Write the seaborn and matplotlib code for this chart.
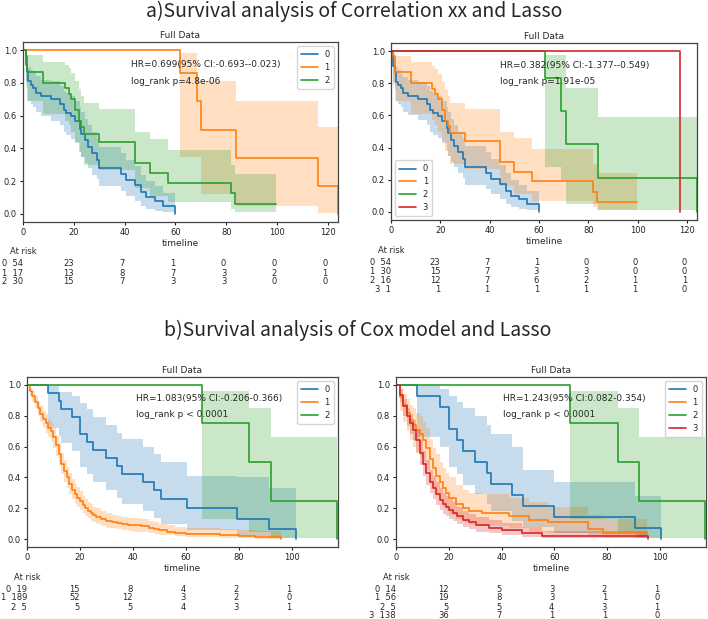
import matplotlib
matplotlib.use("Agg")
import matplotlib.pyplot as plt
import seaborn as sns

# ---- survival curves (time, survival, lower CI, upper CI) ----
# top panels, group of 54 (blue in both)
a_t = [0, 1, 1.5, 2, 3, 4, 5, 7, 11, 14.5, 16, 17, 19, 20.5, 22.5, 23, 24.5, 25.5, 27, 29,
       30, 38.5, 40.5, 44, 46.5, 48.5, 52, 55, 60]
a_s = [1.0, 0.91, 0.87, 0.81, 0.79, 0.77, 0.74, 0.72, 0.70, 0.67, 0.635, 0.615, 0.595, 0.565,
       0.52, 0.49, 0.45, 0.41, 0.37, 0.33, 0.28, 0.245, 0.205, 0.174, 0.133, 0.10, 0.08, 0.05, 0.0]
a_hi = [1, 0.97, 0.95, 0.90, 0.88, 0.86, 0.84, 0.82, 0.81, 0.78, 0.75, 0.74, 0.72, 0.69, 0.65,
        0.62, 0.58, 0.54, 0.50, 0.46, 0.41, 0.37, 0.33, 0.29, 0.24, 0.20, 0.17, 0.13, 0.13]
a_lo = [1, 0.81, 0.76, 0.69, 0.67, 0.65, 0.62, 0.60, 0.57, 0.54, 0.50, 0.48, 0.46, 0.43, 0.38,
        0.35, 0.31, 0.28, 0.24, 0.21, 0.17, 0.14, 0.11, 0.08, 0.05, 0.03, 0.02, 0.01, 0.0]

# top panels, group of 30 (green left, orange right)
b_t = [0, 1, 1.5, 8, 16.5, 18, 19, 20.5, 22, 23, 24, 30, 44, 50, 57, 82, 83.5, 99.5]
b_s = [1, 0.967, 0.867, 0.80, 0.767, 0.733, 0.70, 0.633, 0.567, 0.533, 0.49, 0.44, 0.31,
       0.25, 0.19, 0.125, 0.06, 0.06]
b_hi = [1, 1, 0.97, 0.93, 0.91, 0.89, 0.86, 0.81, 0.76, 0.72, 0.68, 0.64, 0.50, 0.46, 0.39,
        0.30, 0.245, 0.245]
b_lo = [1, 0.79, 0.69, 0.61, 0.57, 0.54, 0.50, 0.44, 0.38, 0.35, 0.30, 0.27, 0.16, 0.11,
        0.07, 0.03, 0.01, 0.01]

# top-left orange
c_t = [0, 62, 68.5, 70, 84, 116, 124]
c_s = [1, 0.86, 0.69, 0.515, 0.34, 0.17, 0.0]
c_hi = [1, 0.98, 0.81, 0.81, 0.69, 0.53, 0.53]
c_lo = [1, 0.35, 0.35, 0.12, 0.045, 0.005, 0.0]

# top-right green
d_t = [0, 62.5, 69, 71, 84, 124]
d_s = [1, 0.83, 0.625, 0.42, 0.21, 0.0]
d_hi = [1, 0.975, 0.975, 0.77, 0.59, 0.59]
d_lo = [1, 0.28, 0.20, 0.05, 0.01, 0.0]

# top-right red
e_t = [0, 117]
e_s = [1, 0.0]

# bottom panels green
f_t = [0, 66, 84, 92, 117]
f_s = [1, 0.75, 0.5, 0.25, 0.0]
f_hi = [1, 0.96, 0.85, 0.66, 0.66]
f_lo = [1, 0.13, 0.05, 0.01, 0.0]

# bottom-left blue
g_t = [0, 8, 12, 13, 17, 20, 22.5, 25, 30, 34, 36, 44, 48, 50.5, 60.5, 79.5, 91.5, 101.5]
g_s = [1, 0.947, 0.895, 0.842, 0.789, 0.684, 0.632, 0.579, 0.526, 0.474, 0.421, 0.368,
       0.316, 0.263, 0.20, 0.13, 0.066, 0.0]
g_hi = [1, 1, 0.95, 0.95, 0.93, 0.88, 0.84, 0.79, 0.74, 0.69, 0.65, 0.60, 0.55, 0.50,
        0.41, 0.40, 0.33, 0.25]
g_lo = [1, 0.72, 0.67, 0.62, 0.57, 0.47, 0.42, 0.37, 0.32, 0.27, 0.23, 0.18, 0.14, 0.10,
        0.06, 0.02, 0.005, 0.0]

# bottom-left orange
h_t = [0, 1, 2, 3, 4, 5, 6, 7, 8, 9, 10, 11, 12, 13, 14, 15, 16, 17, 18, 19, 20, 21, 22, 23,
       24, 25, 26, 28, 30, 32, 34, 36, 38, 40, 43, 46, 48, 50, 53, 56, 60, 66, 73, 80, 86, 96]
h_s = [1, 0.96, 0.93, 0.89, 0.85, 0.81, 0.78, 0.75, 0.72, 0.70, 0.66, 0.61, 0.55, 0.49, 0.44,
       0.40, 0.36, 0.32, 0.29, 0.27, 0.25, 0.22, 0.20, 0.185, 0.17, 0.155, 0.145, 0.13, 0.12,
       0.11, 0.105, 0.10, 0.095, 0.09, 0.085, 0.075, 0.065, 0.06, 0.05, 0.04, 0.037, 0.032,
       0.026, 0.021, 0.017, 0.0]
h_hi = [1, 0.98, 0.96, 0.93, 0.89, 0.86, 0.83, 0.81, 0.78, 0.76, 0.72, 0.67, 0.62, 0.56, 0.51,
        0.47, 0.43, 0.39, 0.36, 0.34, 0.31, 0.28, 0.26, 0.24, 0.23, 0.21, 0.20, 0.18, 0.17,
        0.16, 0.15, 0.145, 0.14, 0.135, 0.13, 0.12, 0.11, 0.10, 0.09, 0.08, 0.075, 0.07,
        0.065, 0.06, 0.055, 0.055]
h_lo = [1, 0.93, 0.89, 0.85, 0.80, 0.76, 0.72, 0.69, 0.66, 0.63, 0.59, 0.54, 0.48, 0.42, 0.37,
        0.33, 0.29, 0.26, 0.23, 0.21, 0.19, 0.17, 0.15, 0.135, 0.12, 0.11, 0.10, 0.085, 0.075,
        0.07, 0.065, 0.06, 0.055, 0.05, 0.045, 0.04, 0.035, 0.03, 0.025, 0.02, 0.015, 0.012,
        0.009, 0.006, 0.004, 0.0]

# bottom-right blue
i_t = [0, 8, 16.75, 20, 23, 25.5, 30, 34.5, 36, 44, 48, 60, 90.5, 100.5]
i_s = [1, 0.929, 0.857, 0.714, 0.643, 0.571, 0.5, 0.429, 0.357, 0.286, 0.214, 0.143, 0.071, 0.0]
i_hi = [1, 1, 0.97, 0.93, 0.89, 0.85, 0.80, 0.74, 0.68, 0.60, 0.45, 0.37, 0.28, 0.28]
i_lo = [1, 0.66, 0.60, 0.47, 0.42, 0.35, 0.29, 0.23, 0.18, 0.12, 0.08, 0.04, 0.005, 0.0]

# bottom-right orange
j_t = [0, 1.5, 2.75, 4, 5.25, 6.5, 7.75, 9, 10.25, 11.5, 12.75, 14, 15.25, 16.5, 17.75, 19,
       20.25, 22.75, 25.25, 27.75, 32.75, 42.75, 50.25, 57.75, 72.75, 78.5, 95]
j_s = [1, 0.92, 0.87, 0.82, 0.77, 0.74, 0.71, 0.68, 0.64, 0.59, 0.52, 0.46, 0.41, 0.37, 0.33,
       0.30, 0.27, 0.23, 0.20, 0.18, 0.17, 0.15, 0.125, 0.11, 0.065, 0.04, 0.04]
j_hi = [1, 0.97, 0.94, 0.91, 0.87, 0.85, 0.82, 0.80, 0.76, 0.72, 0.65, 0.59, 0.55, 0.50, 0.46,
        0.43, 0.40, 0.35, 0.32, 0.30, 0.29, 0.27, 0.24, 0.21, 0.16, 0.13, 0.13]
j_lo = [1, 0.83, 0.76, 0.70, 0.64, 0.60, 0.57, 0.53, 0.50, 0.45, 0.38, 0.33, 0.28, 0.25, 0.21,
        0.19, 0.16, 0.13, 0.11, 0.095, 0.085, 0.07, 0.05, 0.04, 0.02, 0.01, 0.01]

# bottom-right red
k_t = [0, 1.5, 2.75, 4, 5.25, 6.5, 7.75, 9, 10.25, 11.5, 12.75, 14, 15.25, 16.5, 17.75, 19,
       20.25, 21.5, 23, 25.25, 27.5, 30.25, 35.25, 40.25, 47.75, 55.25, 95.5]
k_s = [1, 0.935, 0.86, 0.795, 0.75, 0.71, 0.64, 0.56, 0.49, 0.43, 0.37, 0.33, 0.29, 0.255,
       0.23, 0.21, 0.19, 0.17, 0.15, 0.125, 0.11, 0.093, 0.076, 0.06, 0.04, 0.02, 0.0]
k_hi = [1, 0.97, 0.91, 0.85, 0.81, 0.77, 0.71, 0.64, 0.57, 0.51, 0.45, 0.41, 0.37, 0.33, 0.30,
        0.28, 0.26, 0.24, 0.21, 0.18, 0.165, 0.145, 0.125, 0.105, 0.08, 0.055, 0.055]
k_lo = [1, 0.89, 0.80, 0.73, 0.68, 0.64, 0.56, 0.48, 0.41, 0.35, 0.30, 0.26, 0.22, 0.19, 0.165,
        0.15, 0.13, 0.115, 0.10, 0.08, 0.065, 0.05, 0.038, 0.028, 0.015, 0.005, 0.0]

# ---- at-risk tables ----
top_ticks = [0, 20, 40, 60, 80, 100, 120]
bottom_ticks = [0, 20, 40, 60, 80, 100]
risk_tl = [[54, 23, 7, 1, 0, 0, 0], [17, 13, 8, 7, 3, 2, 1], [30, 15, 7, 3, 3, 0, 0]]
risk_tr = [[54, 23, 7, 1, 0, 0, 0], [30, 15, 7, 3, 3, 0, 0], [16, 12, 7, 6, 2, 1, 1],
           [1, 1, 1, 1, 1, 1, 0]]
risk_bl = [[19, 15, 8, 4, 2, 1], [189, 52, 12, 3, 2, 0], [5, 5, 5, 4, 3, 1]]
risk_br = [[14, 12, 5, 3, 2, 1], [56, 19, 8, 3, 1, 0], [5, 5, 5, 4, 3, 1], [138, 36, 7, 1, 1, 0]]

hr_text = ["HR=0.699(95% CI:-0.693--0.023)", "HR=0.382(95% CI:-1.377--0.549)",
           "HR=1.083(95% CI:-0.206-0.366)", "HR=1.243(95% CI:0.082-0.354)"]
p_text = ["log_rank p=4.8e-06", "log_rank p=1.91e-05", "log_rank p < 0.0001", "log_rank p < 0.0001"]

C0, C1, C2, C3 = "#1f77b4", "#ff7f0e", "#2ca02c", "#d62728"

sns.set_style("ticks", {"axes.edgecolor": "#444444"})
plt.rcParams["font.family"] = ["DejaVu Sans"]
plt.rcParams["xtick.labelsize"] = 6
plt.rcParams["ytick.labelsize"] = 6
plt.rcParams["xtick.major.size"] = 2.5
plt.rcParams["ytick.major.size"] = 2.5
plt.rcParams["axes.linewidth"] = 0.9

fig = plt.figure(figsize=(7.08, 6.19), dpi=100)
W, H = 708.0, 619.0


def make_ax(left, right, top, bottom):
    return fig.add_axes([left / W, 1 - bottom / H, (right - left) / W, (bottom - top) / H])


def km(ax, t, s, color, label, lo=None, hi=None):
    if lo is not None:
        ax.fill_between(t, lo, hi, step="post", color=color, alpha=0.25, lw=0)
    sns.lineplot(x=t, y=s, ax=ax, color=color, label=label, drawstyle="steps-post",
                 estimator=None, sort=False, lw=1.2)


def at_risk(ax, ticks, counts):
    px = 0.72  # points per pixel at dpi 100
    ax.annotate("At risk", xy=(0, 0), xycoords=("data", "axes fraction"),
                xytext=(0, -30 * px), textcoords="offset points", ha="center", va="center",
                fontsize=6, annotation_clip=False)
    for g, row in enumerate(counts):
        for j, tick in enumerate(ticks):
            txt = f"{g}  {row[j]}" if j == 0 else str(row[j])
            ax.annotate(txt, xy=(tick, 0), xycoords=("data", "axes fraction"),
                        xytext=(0, -(42 + 9 * g) * px), textcoords="offset points",
                        ha="right", va="center", fontsize=6, annotation_clip=False)


def finish(ax, xmax, ticks, idx, hr_x, legend_loc):
    ax.set_xlim(0, xmax)
    ax.set_ylim(-0.05, 1.05)
    ax.set_xticks(ticks)
    ax.set_yticks([0.0, 0.2, 0.4, 0.6, 0.8, 1.0])
    ax.set_xlabel("timeline", fontsize=6.5, labelpad=1)
    ax.set_ylabel("")
    ax.set_title("Full Data", fontsize=6.5, pad=3)
    ax.tick_params(pad=2, colors="#222222")
    ax.text(hr_x, 0.91, hr_text[idx], fontsize=6.5, va="center")
    ax.text(hr_x, 0.81, p_text[idx], fontsize=6.5, va="center")
    ax.legend(loc=legend_loc, fontsize=6, handlelength=2.0, borderpad=0.5, labelspacing=0.45)


# a) top-left
ax1 = make_ax(23, 338, 42, 222)
km(ax1, a_t, a_s, C0, "0", a_lo, a_hi)
km(ax1, c_t, c_s, C1, "1", c_lo, c_hi)
km(ax1, b_t, b_s, C2, "2", b_lo, b_hi)
finish(ax1, 124, top_ticks, 0, 42.5, "upper right")
at_risk(ax1, top_ticks, risk_tl)

# a) top-right
ax2 = make_ax(391, 697, 43, 220)
km(ax2, a_t, a_s, C0, "0", a_lo, a_hi)
km(ax2, b_t, b_s, C1, "1", b_lo, b_hi)
km(ax2, d_t, d_s, C2, "2", d_lo, d_hi)
km(ax2, e_t, e_s, C3, "3")
finish(ax2, 124, top_ticks, 1, 44, "lower left")
at_risk(ax2, top_ticks, risk_tr)

# b) bottom-left
ax3 = make_ax(27, 338, 377, 547)
km(ax3, g_t, g_s, C0, "0", g_lo, g_hi)
km(ax3, h_t, h_s, C1, "1", h_lo, h_hi)
km(ax3, f_t, f_s, C2, "2", f_lo, f_hi)
finish(ax3, 117.5, bottom_ticks, 2, 41, "upper right")
at_risk(ax3, bottom_ticks, risk_bl)

# b) bottom-right
ax4 = make_ax(396, 706, 377, 547)
km(ax4, i_t, i_s, C0, "0", i_lo, i_hi)
km(ax4, j_t, j_s, C1, "1", j_lo, j_hi)
km(ax4, f_t, f_s, C2, "2", f_lo, f_hi)
km(ax4, k_t, k_s, C3, "3", k_lo, k_hi)
finish(ax4, 117.5, bottom_ticks, 3, 40.5, "upper right")
at_risk(ax4, bottom_ticks, risk_br)

title_font = ["Noto Sans CJK SC", "DejaVu Sans"]
fig.text(0.5, 1 - 11 / H, "a)Survival analysis of Correlation xx and Lasso", ha="center",
         va="center", fontsize=14, family=title_font)
fig.text(0.505, 1 - 330 / H, "b)Survival analysis of Cox model and Lasso", ha="center",
         va="center", fontsize=14, family=title_font)

fig.savefig("out.png", dpi=100)
